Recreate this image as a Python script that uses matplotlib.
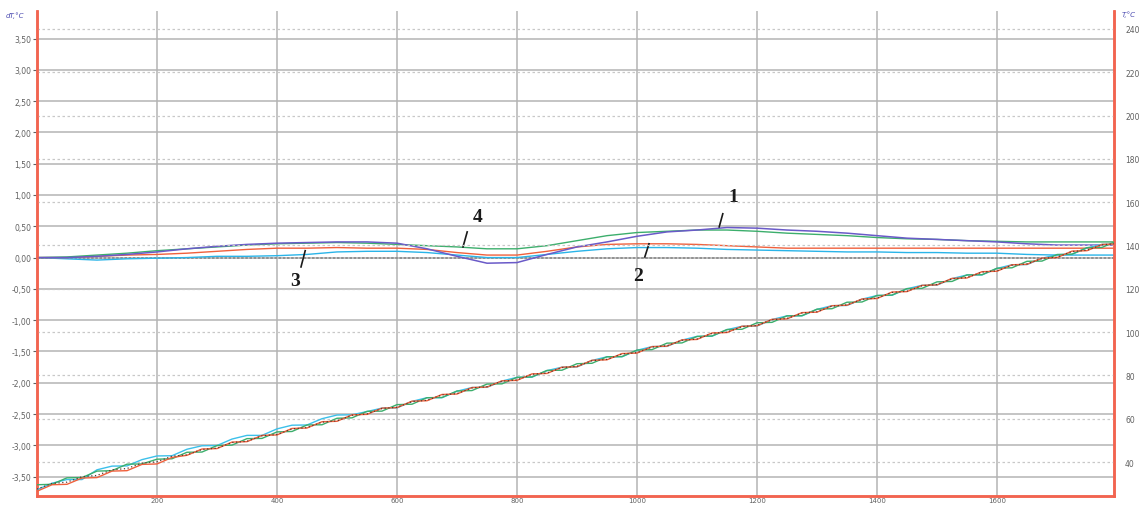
import matplotlib
matplotlib.use("Agg")
import matplotlib.pyplot as plt
from matplotlib.ticker import FixedLocator, FuncFormatter

# Time axis for dT records, s
t = [0, 50, 100, 150, 200, 250, 300, 350, 400, 450, 500, 550, 600, 650, 700,
     750, 800, 850, 900, 950, 1000, 1050, 1100, 1150, 1200, 1250, 1300, 1350,
     1400, 1450, 1500, 1550, 1600, 1650, 1700, 1750, 1800]

# Differential temperature dT, °C (left axis), samples 1-4
dt1 = [0.00, 0.00, 0.02, 0.05, 0.09, 0.14, 0.18, 0.21, 0.23, 0.24, 0.25, 0.25,
       0.23, 0.14, 0.02, -0.09, -0.08, 0.05, 0.17, 0.25, 0.34, 0.41, 0.44,
       0.48, 0.47, 0.44, 0.42, 0.39, 0.35, 0.31, 0.29, 0.27, 0.25, 0.22, 0.20,
       0.20, 0.20]
dt2 = [0.00, 0.00, 0.02, 0.04, 0.05, 0.07, 0.10, 0.13, 0.15, 0.15, 0.16, 0.15,
       0.15, 0.13, 0.08, 0.04, 0.04, 0.10, 0.17, 0.21, 0.22, 0.22, 0.21, 0.19,
       0.17, 0.15, 0.15, 0.15, 0.15, 0.15, 0.15, 0.15, 0.15, 0.15, 0.15, 0.15,
       0.15]
dt3 = [0.00, -0.02, -0.04, -0.02, -0.01, 0.00, 0.02, 0.02, 0.03, 0.05, 0.09,
       0.10, 0.10, 0.08, 0.04, 0.00, 0.00, 0.05, 0.10, 0.14, 0.16, 0.16, 0.15,
       0.13, 0.12, 0.11, 0.10, 0.09, 0.09, 0.08, 0.08, 0.07, 0.07, 0.05, 0.04,
       0.04, 0.04]
dt4 = [0.00, 0.01, 0.04, 0.07, 0.11, 0.14, 0.17, 0.20, 0.22, 0.23, 0.24, 0.23,
       0.21, 0.19, 0.17, 0.14, 0.14, 0.19, 0.27, 0.35, 0.40, 0.42, 0.44, 0.44,
       0.42, 0.39, 0.37, 0.35, 0.32, 0.30, 0.29, 0.27, 0.26, 0.25, 0.25, 0.25,
       0.25]

# Time axis for temperature records, s (25 s sampling)
tT = list(range(0, 1825, 25))

# Sample temperature T, °C (right axis)
T_red = [26.5, 29.5, 29.7, 32.6, 32.8, 35.8, 36.0, 38.9, 39.1, 42.1,
         43.1, 46.0, 46.2, 49.2, 49.4, 52.3, 52.5, 55.5, 55.7, 58.6,
         58.8, 61.8, 62.0, 64.9, 65.1, 68.1, 68.3, 71.2, 71.4, 74.4,
         74.6, 77.5, 77.7, 80.7, 80.9, 83.8, 84.0, 87.0, 87.2, 90.1,
         90.3, 93.3, 93.5, 96.4, 96.6, 99.6, 99.8, 102.7, 102.9, 105.9,
         106.1, 109.0, 109.2, 112.2, 112.4, 115.3, 115.5, 118.5, 118.7, 121.6,
         121.8, 124.8, 125.0, 127.9, 128.1, 131.1, 131.3, 134.2, 134.4, 137.4,
         137.6, 140.5, 140.7]
T_green = [29.5, 29.7, 32.7, 32.8, 35.8, 36.0, 39.0, 39.1, 41.3, 41.5,
           44.5, 44.6, 47.6, 47.8, 50.8, 50.9, 53.9, 54.1, 57.1, 57.2,
           60.2, 60.4, 63.4, 63.5, 66.5, 66.7, 69.7, 69.8, 72.8, 73.0,
           76.0, 76.1, 79.1, 79.3, 82.3, 82.4, 85.4, 85.6, 88.6, 88.7,
           91.7, 91.9, 94.9, 95.0, 98.0, 98.2, 101.2, 101.3, 104.3, 104.5,
           107.5, 107.6, 110.6, 110.8, 113.8, 113.9, 116.9, 117.1, 120.1, 120.2,
           123.2, 123.4, 126.4, 126.5, 129.5, 129.7, 132.7, 132.8, 135.8, 136.0,
           139.0, 139.1, 142.1]
T_cyan = [27.2, 30.2, 31.9, 31.9, 36.4, 38.1, 38.2, 41.1, 42.8, 42.9,
          45.9, 47.5, 47.6, 50.6, 52.3, 52.3, 55.3, 57.0, 57.1, 60.0,
          61.7, 61.8, 63.3, 64.9, 65.0, 68.0, 69.7, 69.7, 72.7, 74.4,
          74.5, 77.4, 79.1, 79.2, 82.2, 83.8, 83.9, 86.9, 88.6, 88.6,
          91.6, 93.3, 93.4, 96.3, 98.0, 98.1, 101.1, 102.7, 102.8, 105.8,
          107.5, 107.5, 110.5, 112.2, 112.3, 115.2, 116.9, 117.0, 120.0, 121.6,
          121.7, 124.7, 126.4, 126.4, 129.4, 131.1, 131.2, 134.1, 135.8, 135.9,
          138.9, 140.5, 140.6]
T_dark = [27.5, 30.1, 30.7, 33.2, 33.8, 36.4, 37.0, 39.5, 40.1, 42.7,
          43.3, 45.8, 46.4, 49.0, 49.6, 52.1, 52.7, 55.3, 55.9, 58.4,
          59.0, 61.6, 62.2, 64.7, 65.3, 67.9, 68.5, 71.0, 71.6, 74.2,
          74.8, 77.3, 77.9, 80.5, 81.1, 83.6, 84.2, 86.8, 87.4, 89.9,
          90.5, 93.1, 93.7, 96.2, 96.8, 99.4, 100.0, 102.5, 103.1, 105.7,
          106.3, 108.8, 109.4, 112.0, 112.6, 115.1, 115.7, 118.3, 118.9, 121.4,
          122.0, 124.6, 125.2, 127.7, 128.3, 130.9, 131.5, 134.0, 134.6, 137.2,
          137.8, 140.3, 140.9]

left_ticks = [-3.5, -3.0, -2.5, -2.0, -1.5, -1.0, -0.5, 0.0, 0.5, 1.0, 1.5,
              2.0, 2.5, 3.0, 3.5]
right_ticks = [40, 60, 80, 100, 120, 140, 160, 180, 200, 220, 240]
x_ticks = [200, 400, 600, 800, 1000, 1200, 1400, 1600]

# Curve number labels: (text, label pos, leader start, leader end)
labels = [
    ("1", (1160, 0.98), (1143, 0.70), (1137, 0.49)),
    ("4", (735, 0.66), (717, 0.41), (710, 0.17)),
    ("2", (1002, -0.29), (1020, 0.22), (1013, 0.01)),
    ("3", (430, -0.37), (447, 0.11), (440, -0.15)),
]

RED = "#f26450"
GRID = "#b4b4b4"
TICK = "#606060"

fig = plt.figure(figsize=(11.42, 5.06), dpi=100)
ax = fig.add_axes([37 / 1142, 9 / 506, 1077 / 1142, 485 / 506])
ax2 = ax.twinx()

ax.set_xlim(0, 1795)
ax.set_ylim(-3.81, 3.94)
ax2.set_ylim(24.3, 248.3)

# Grids: solid for dT and time, dotted for T
ax.yaxis.set_major_locator(FixedLocator(left_ticks))
ax.xaxis.set_major_locator(FixedLocator(x_ticks))
ax2.yaxis.set_major_locator(FixedLocator(right_ticks))
ax.grid(True, color=GRID, lw=1.1, ls="-", zorder=0)
ax2.grid(True, axis="y", color="#c8c8c8", lw=0.9, ls=(0, (2, 2)), zorder=0)
ax.set_axisbelow(True)
ax2.set_axisbelow(True)
ax.axhline(0, color="#8a8a8a", lw=1.2, ls=(0, (1.5, 1)), zorder=1)

ax.yaxis.set_major_formatter(FuncFormatter(lambda v, p: f"{v:.2f}".replace(".", ",")))
ax2.yaxis.set_major_formatter(FuncFormatter(lambda v, p: f"{v:.0f}"))

ax.tick_params(axis="y", labelsize=5.5, colors=TICK, length=3, width=0.8, pad=1)
ax.tick_params(axis="x", labelsize=5, colors=TICK, length=0, pad=1)
ax2.tick_params(axis="y", labelsize=5.5, colors=TICK, length=0, pad=8)

for a in (ax, ax2):
    a.spines["top"].set_visible(False)
    for s in ("left", "right", "bottom"):
        a.spines[s].set_color(RED)
        a.spines[s].set_linewidth(1.8)

# Temperature ramps
ax2.plot(tT, T_cyan, color="#3cc0ea", lw=1.0, zorder=3)
ax2.plot(tT, T_green, color="#3cae6c", lw=1.0, zorder=3)
ax2.plot(tT, T_red, color="#f0603c", lw=1.0, zorder=3)
ax2.plot(tT, T_dark, color="#5a3a30", lw=0.9, ls=(0, (1, 2)), zorder=4)

# Differential curves
ax.plot(t, dt3, color="#2ab4e8", lw=1.0, zorder=3)
ax.plot(t, dt2, color="#f0603c", lw=1.0, zorder=3)
ax.plot(t, dt4, color="#3cae6c", lw=1.0, zorder=3)
ax.plot(t, dt1, color="#6a5ac8", lw=1.1, zorder=4)

for txt, pos, p0, p1 in labels:
    ax.text(pos[0], pos[1], txt, ha="center", va="center", fontsize=14,
            fontweight="bold", family="Liberation Serif", color="#1a1a1a",
            zorder=6)
    ax.plot([p0[0], p1[0]], [p0[1], p1[1]], color="#1a1a1a", lw=1.2, zorder=6)

ax.patch.set_visible(False)

fig.text(15 / 1142, 1 - 16 / 506, "dT,°C", fontsize=5, style="italic",
         color="#4a4ab0", ha="center", va="center")
fig.text(1129 / 1142, 1 - 15 / 506, "T,°C", fontsize=5, style="italic",
         color="#4a4ab0", ha="center", va="center")

fig.savefig("out.png", dpi=100, facecolor="white")
